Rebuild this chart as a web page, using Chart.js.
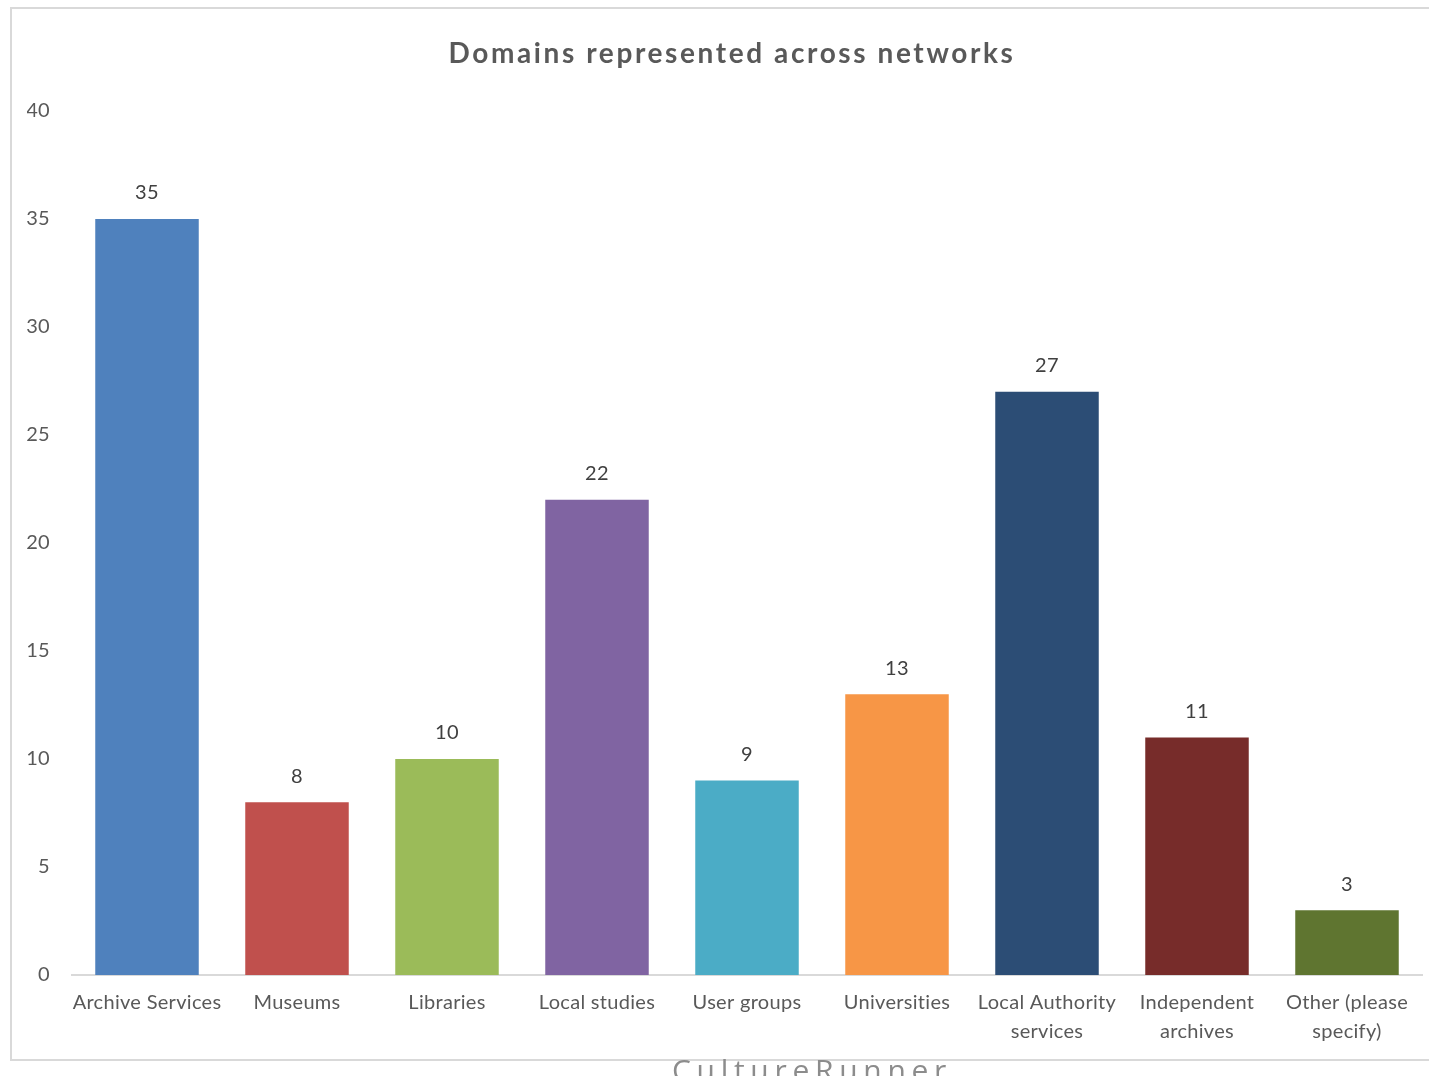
<!DOCTYPE html>
<html>
<head>
<meta charset="utf-8">
<script src="https://cdn.jsdelivr.net/npm/chart.js@4.4.1/dist/chart.umd.min.js"></script>
<style>
  html, body { margin: 0; padding: 0; background: #fff; overflow: hidden; width: 1429px; height: 1076px; }
  #frame { position: absolute; left: 10px; top: 7px; width: 1438px; height: 1050px; border: 2px solid #d9d9d9; }
  #frame canvas { display: block; }
  #title { position: absolute; left: 0; top: 35px; width: 1464px; text-align: center; font: bold 28px/34px Lato, sans-serif; letter-spacing: 2.6px; color: #595959; white-space: nowrap; }
  #mark { position: absolute; left: 672px; top: 1055px; font: 30px/30px "Open Sans", sans-serif; letter-spacing: 5.7px; color: #8c8c8c; white-space: nowrap; }
</style>
</head>
<body>
<div id="frame"><canvas id="domainChart" width="1438" height="1050"></canvas></div>
<div id="title">Domains represented across networks</div>
<div id="mark">CultureRunner</div>
<script>
const categories = [
  "Archive Services",
  "Museums",
  "Libraries",
  "Local studies",
  "User groups",
  "Universities",
  ["Local Authority", "services"],
  ["Independent", "archives"],
  ["Other (please", "specify)"]
];
const counts = [35, 8, 10, 22, 9, 13, 27, 11, 3];
const barColors = ["#4f81bd", "#c0504d", "#9bbb59", "#8064a2", "#4bacc6", "#f79646", "#2c4d75", "#772c2a", "#5f7530"];
const yTicks = [0, 5, 10, 15, 20, 25, 30, 35, 40];

const fontFamily = "Lato, 'Open Sans', sans-serif";
const textGrey = "#595959";

// slightly looser text, closer to the original rendering
const spacingPlugin = {
  id: "letterSpacing",
  beforeDraw(chart) {
    chart.ctx.letterSpacing = "0.3px";
  }
};

// values written above each bar
const valueLabelPlugin = {
  id: "valueLabels",
  afterDatasetsDraw(chart) {
    const { ctx } = chart;
    const meta = chart.getDatasetMeta(0);
    ctx.save();
    ctx.font = `20px ${fontFamily}`;
    ctx.fillStyle = "#404040";
    ctx.textAlign = "center";
    ctx.textBaseline = "middle";
    meta.data.forEach((bar, index) => {
      ctx.fillText(String(counts[index]), bar.x, bar.y - 26);
    });
    ctx.restore();
  }
};

const chart = new Chart(document.getElementById("domainChart"), {
  type: "bar",
  data: {
    labels: categories,
    datasets: [
      {
        label: "Domains",
        data: counts,
        backgroundColor: barColors,
        borderWidth: 0,
        barPercentage: 0.69,
        categoryPercentage: 1
      }
    ]
  },
  options: {
    responsive: false,
    animation: false,
    layout: {
      padding: { left: 15, right: 28, top: 102, bottom: 0 }
    },
    plugins: {
      legend: { display: false },
      tooltip: { enabled: false },
      title: { display: false }
    },
    scales: {
      x: {
        grid: { display: false, drawTicks: false },
        border: { display: true, color: "#d9d9d9", width: 2 },
        ticks: {
          color: textGrey,
          font: { family: fontFamily, size: 20, lineHeight: "29px" },
          padding: 13,
          maxRotation: 0,
          autoSkip: false
        },
        afterFit(scale) {
          scale.height = 84;
        }
      },
      y: {
        min: 0,
        max: 40,
        grid: { display: false, drawTicks: false },
        border: { display: false },
        afterBuildTicks(scale) {
          scale.ticks = yTicks.map((value) => ({ value }));
        },
        ticks: {
          color: textGrey,
          font: { family: fontFamily, size: 20 },
          padding: 22
        },
        afterFit(scale) {
          scale.width = 45;
        }
      }
    }
  },
  plugins: [spacingPlugin, valueLabelPlugin]
});
</script>
</body>
</html>
